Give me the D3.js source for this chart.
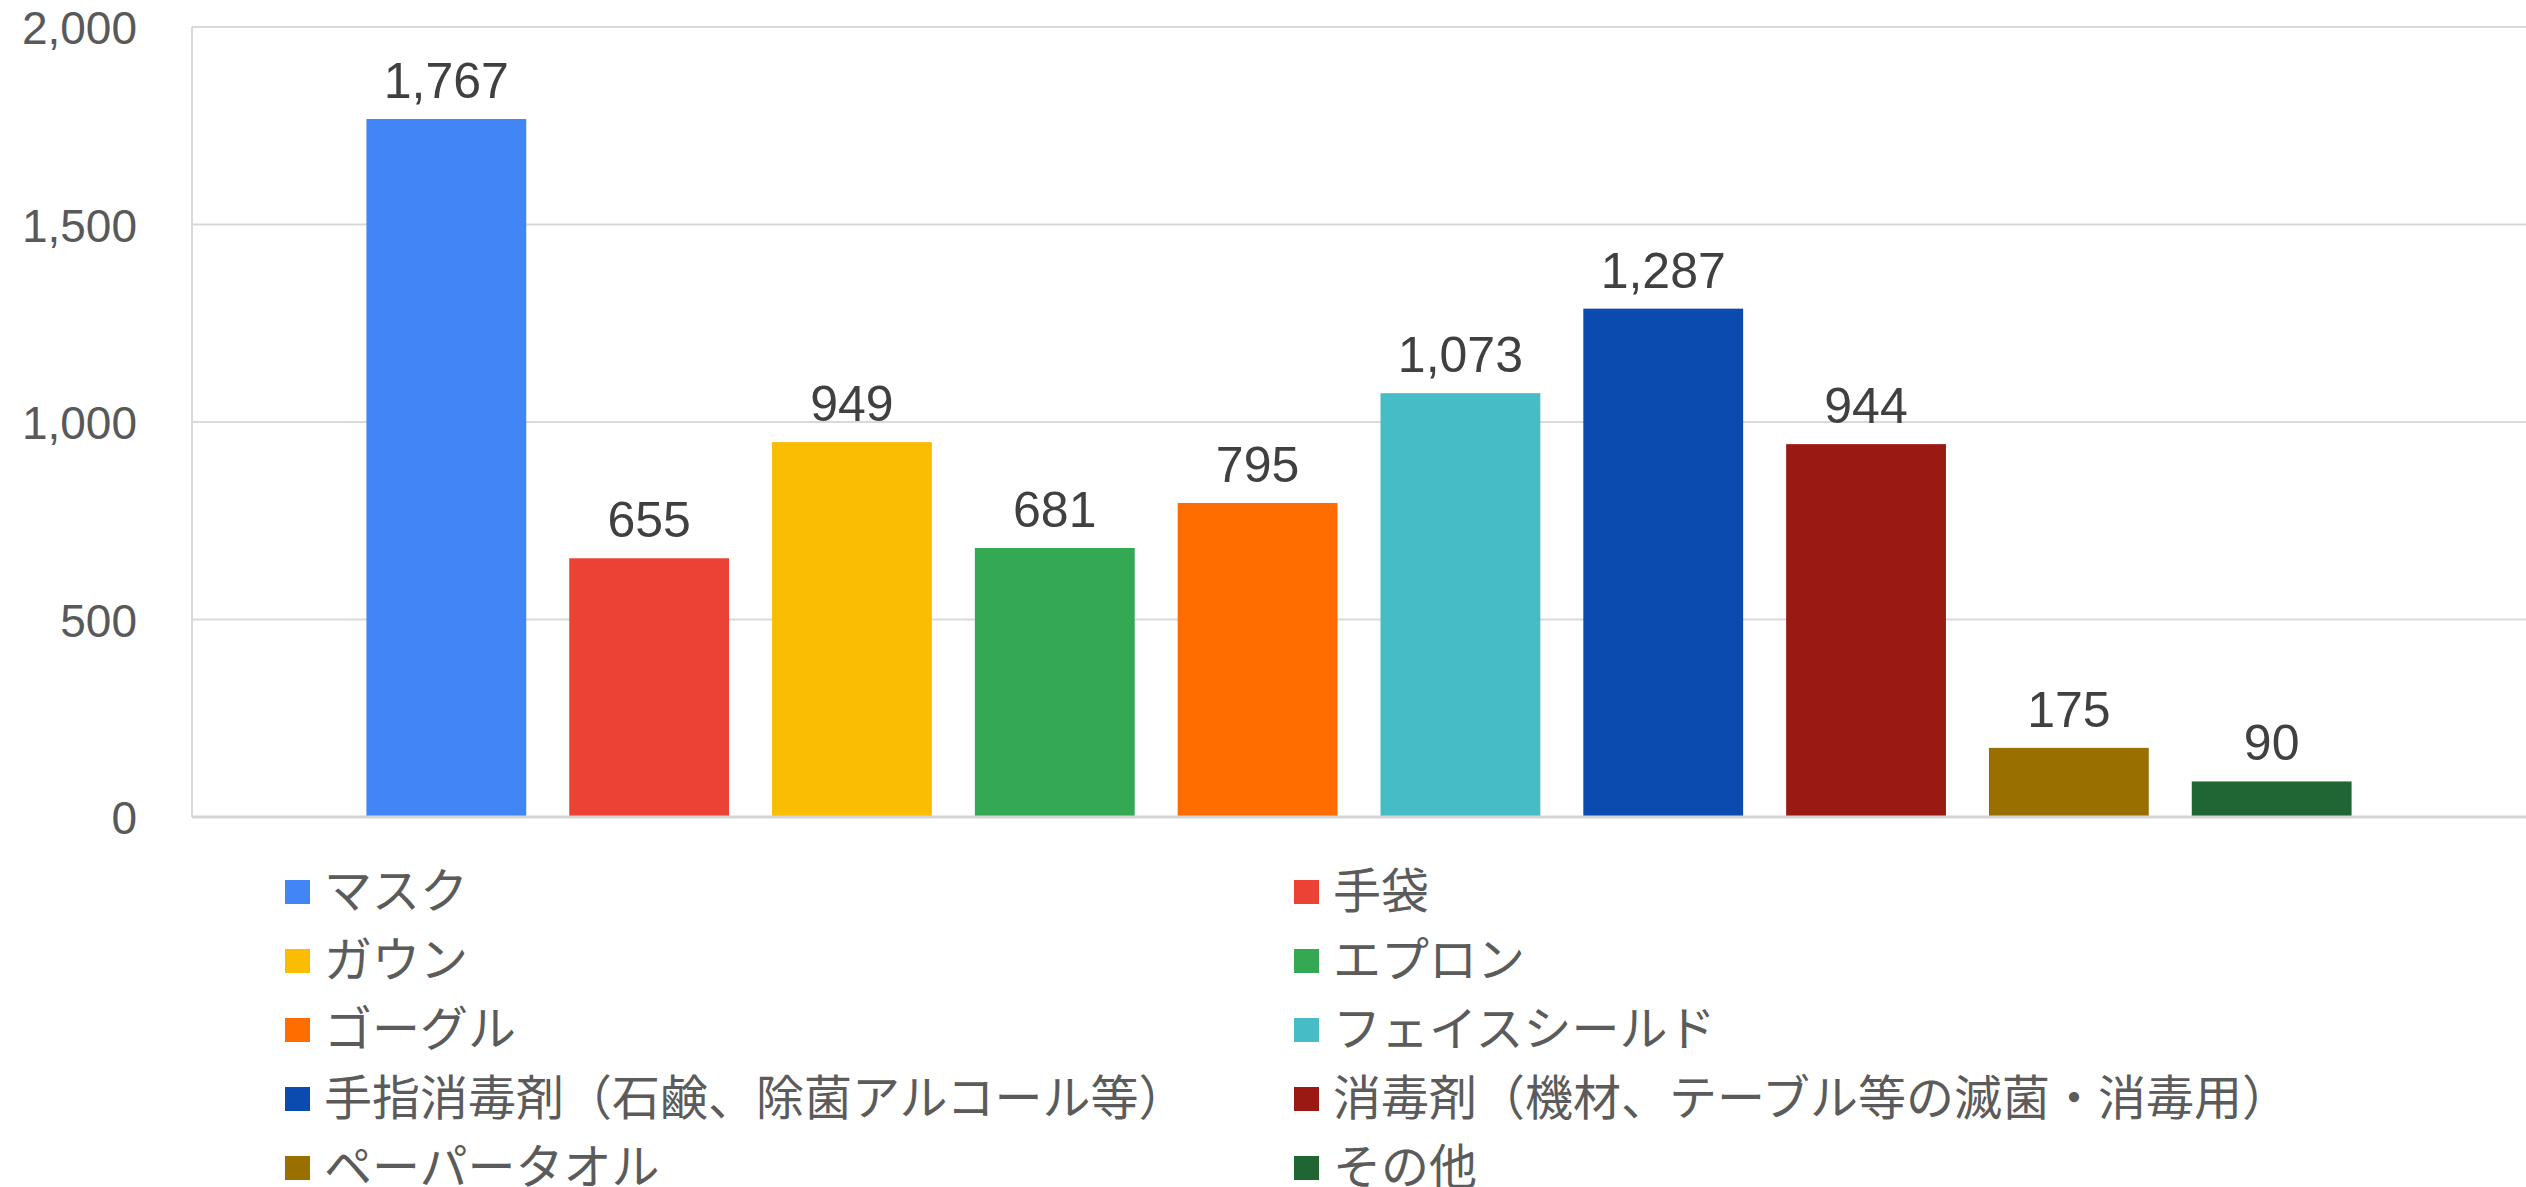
<!DOCTYPE html>
<html>
<head>
<meta charset="utf-8">
<script src="https://cdn.jsdelivr.net/npm/d3@7"></script>
<style>
  html, body { margin: 0; padding: 0; background: #fff; }
  svg { display: block; }
</style>
</head>
<body>
<svg id="chart" width="2526" height="1187"></svg>
<script>
// series (one bar each, single category group)
const SERIES = [
  "マスク", "手袋", "ガウン", "エプロン", "ゴーグル",
  "フェイスシールド", "手指消毒剤（石鹸、除菌アルコール等）",
  "消毒剤（機材、テーブル等の滅菌・消毒用）", "ペーパータオル", "その他"
];
const VALUES = [1767, 655, 949, 681, 795, 1073, 1287, 944, 175, 90];
const COLORS = [
  "#4285f4", "#ea4335", "#fbbc04", "#34a853", "#ff6d01",
  "#46bdc6", "#0b4aae", "#9a1a13", "#997000", "#1f6633"
];
const Y_TICKS = [0, 500, 1000, 1500, 2000];

function drawChart() {
  const svg = d3.select("#chart");
  const margin = {top: 27, right: 0, left: 192},
    width = 2526 - margin.left - margin.right,
    height = 817 - margin.top;

  const g = svg.append("g")
    .attr("transform", "translate(" + margin.left + "," + margin.top + ")");

  const x = d3.scaleBand()
    .domain(SERIES)
    .range([0, width])
    .paddingInner(0.212)
    .paddingOuter(0.86);

  const y = d3.scaleLinear()
    .domain([0, 2000])
    .range([height, 0]);

  const fmt = d3.format(",");

  // grid
  g.append("g")
    .selectAll("line")
    .data(Y_TICKS.filter(d => d > 0))
    .join("line")
      .attr("x1", 0)
      .attr("x2", width)
      .attr("y1", d => y(d))
      .attr("y2", d => y(d))
      .attr("stroke", "#d9d9d9")
      .attr("stroke-width", 2);

  // y axis labels
  const yAxis = g.append("g")
    .call(d3.axisLeft(y).tickValues(Y_TICKS).tickFormat(fmt).tickSize(0).tickPadding(55));
  yAxis.select(".domain").remove();
  yAxis.selectAll("text")
    .attr("fill", "#595959")
    .attr("font-family", "'Liberation Sans', Arial, sans-serif")
    .attr("font-size", 46)
    .attr("dy", "0.36em");

  // bars
  g.append("g")
    .selectAll("rect")
    .data(SERIES)
    .join("rect")
      .attr("x", d => x(d))
      .attr("width", x.bandwidth())
      .attr("y", (d, i) => y(VALUES[i]))
      .attr("height", (d, i) => height - y(VALUES[i]))
      .attr("fill", (d, i) => COLORS[i]);

  // value labels
  g.append("g")
    .selectAll("text")
    .data(SERIES)
    .join("text")
      .attr("x", d => x(d) + x.bandwidth() / 2)
      .attr("y", (d, i) => y(VALUES[i]) - 21)
      .attr("text-anchor", "middle")
      .attr("fill", "#404040")
      .attr("font-family", "'Liberation Sans', Arial, sans-serif")
      .attr("font-size", 50)
      .text((d, i) => fmt(VALUES[i]));

  // axis lines
  g.append("line")
    .attr("x1", 0).attr("x2", 0)
    .attr("y1", 0).attr("y2", height)
    .attr("stroke", "#d9d9d9")
    .attr("stroke-width", 2);
  g.append("line")
    .attr("x1", 0).attr("x2", width)
    .attr("y1", height).attr("y2", height)
    .attr("stroke", "#d4d4d4")
    .attr("stroke-width", 3);

  // legend, two columns, row-major
  const legend = svg.append("g");
  const colX = [285, 1294], rowY0 = 892, rowStep = 69;
  const item = legend.selectAll("g")
    .data(SERIES)
    .join("g")
      .attr("transform", (d, i) => "translate(" + colX[i % 2] + "," + (rowY0 + Math.floor(i / 2) * rowStep) + ")");
  item.append("rect")
    .attr("x", 0).attr("y", -12)
    .attr("width", 25).attr("height", 24)
    .attr("fill", (d, i) => COLORS[i]);
  item.append("text")
    .attr("x", 39)
    .attr("y", 0)
    .attr("dy", "0.34em")
    .attr("fill", "#5b5b5b")
    .attr("font-family", "'Noto Sans CJK JP', sans-serif")
    .attr("font-size", 48)
    .text(d => d);
}

drawChart();
</script>
</body>
</html>
